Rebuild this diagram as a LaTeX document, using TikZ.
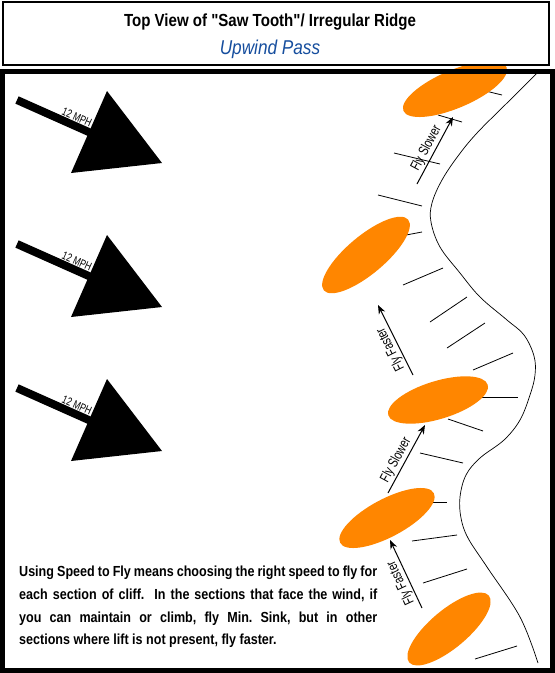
\documentclass[tikz,border=0pt]{standalone}
\usepackage{fontspec}
\setmainfont{Liberation Sans}
\newfontfamily\narrowfont[FakeStretch=0.86]{Liberation Sans}
\newfontfamily\thinfont[FakeStretch=0.75]{Liberation Sans}
\usepackage{xcolor}
\usepackage{tikz}
\usetikzlibrary{arrows.meta}
\definecolor{cliffOrange}{RGB}{255,134,0}
\definecolor{passBlue}{RGB}{22,78,158}
\frenchspacing

\begin{document}
\begin{tikzpicture}[
      x=1pt, y=-1pt,
      >={Stealth[length=9pt, width=7pt]},
      windshaft/.style={line width=8pt},
      windlabel/.style={font=\thinfont\fontsize{11.5}{12}\selectfont, inner sep=0.8pt},
      cliff/.style={fill=cliffOrange},
      tick/.style={line width=0.8pt},
      ridge/.style={line width=0.7pt},
      flyarrow/.style={->, line width=1pt},
      flylabel/.style={font=\thinfont\fontsize{14}{15}\selectfont, inner sep=1.5pt},
      titletext/.style={font=\narrowfont\bfseries\fontsize{17.5}{20}\selectfont},
      subtitle/.style={font=\narrowfont\itshape\fontsize{20}{22}\selectfont, text=passBlue},
      bodytext/.style={font=\narrowfont\bfseries\fontsize{14.6}{22.7}\selectfont,
        text width=358pt, align=justify, inner sep=0pt}
    ]
    \useasboundingbox (0,0) rectangle (555,673);

    \foreach \xa/\ya/\xb/\yb in {465/86/502/95, 438/115/462/122, 394/153/440/164,
        378/195/422/206, 385/239/422/232, 403/285/443/268, 430/322/467/297,
        447/348/485/323, 473/370/513/353, 450/397/518/397, 448/419/483/431,
        420/453/463/463, 420/502/447/502, 412/541/457/535, 423/583/467/569,
        470/606/490/602, 475/659/517/646}
      \draw[tick] (\xa,\ya) -- (\xb,\yb);

    \draw[ridge] plot[smooth, tension=0.6] coordinates {
      (540,70) (507,103) (477,133) (458,156) (442,180) (432,203) (431,222)
      (440,247) (460,273) (480,297) (507,320) (524,335) (534,356) (535,375)
      (530,395) (520,420) (504,440) (480,458) (466,475) (460,497) (461,518)
      (468,538) (487,567) (520,617) (538,663)};

    \fill[cliff, rotate around={23:(455,89)}] (455,89) ellipse [x radius=56, y radius=19];
    \fill[cliff, rotate around={40:(366,255)}] (366,255) ellipse [x radius=55, y radius=19];
    \fill[cliff, rotate around={17:(438,400)}] (438,400) ellipse [x radius=52, y radius=19];
    \fill[cliff, rotate around={28:(387,518)}] (387,518) ellipse [x radius=53, y radius=19];
    \fill[cliff, rotate around={40:(449,629)}] (449,629) ellipse [x radius=52, y radius=19];

    \draw[flyarrow] (417,184) -- node[flylabel, sloped, above, pos=0.47] (slow1)
      {Fly Slower} (453,117);
    \draw[flyarrow] (413,375) -- node[flylabel, sloped, allow upside down, above, pos=0.42] (fast1)
      {Fly Faster} (378,305);
    \draw[flyarrow] (388,493) -- node[flylabel, sloped, above, pos=0.42] (slow2)
      {Fly Slower} (425,425);
    \draw[flyarrow] (422,608) -- node[flylabel, sloped, allow upside down, above, pos=0.42] (fast2)
      {Fly Faster} (390,540);

    \foreach \dy [count=\i] in {0,144,288}{
      \fill (107,91+\dy) -- (162,163+\dy) -- (71,173+\dy) -- cycle;
      \draw[windshaft] (17,100+\dy) -- node[windlabel, sloped, above, pos=0.68] (mph\i)
        {12 MPH} (100,137+\dy);
    }

    \node[bodytext, anchor=north west] (note) at (19,566) {Using Speed to Fly means
      choosing the right speed to fly for\linebreak each section of cliff.\ \ In the
      sections that face the wind, if\linebreak you can maintain or climb, fly Min.
      Sink, but in other\linebreak sections where lift is not present, fly faster.};

    \draw[line width=2.5pt, fill=white] (3,2) rectangle (549,65);
    \node[titletext] (title) at (270,22) {Top View of "Saw Tooth"/ Irregular Ridge};
    \node[subtitle] (pass) at (270,49) {Upwind Pass};
    \draw[line width=5pt] (2.5,71.5) rectangle (552.5,670);
  \end{tikzpicture}
\end{document}
